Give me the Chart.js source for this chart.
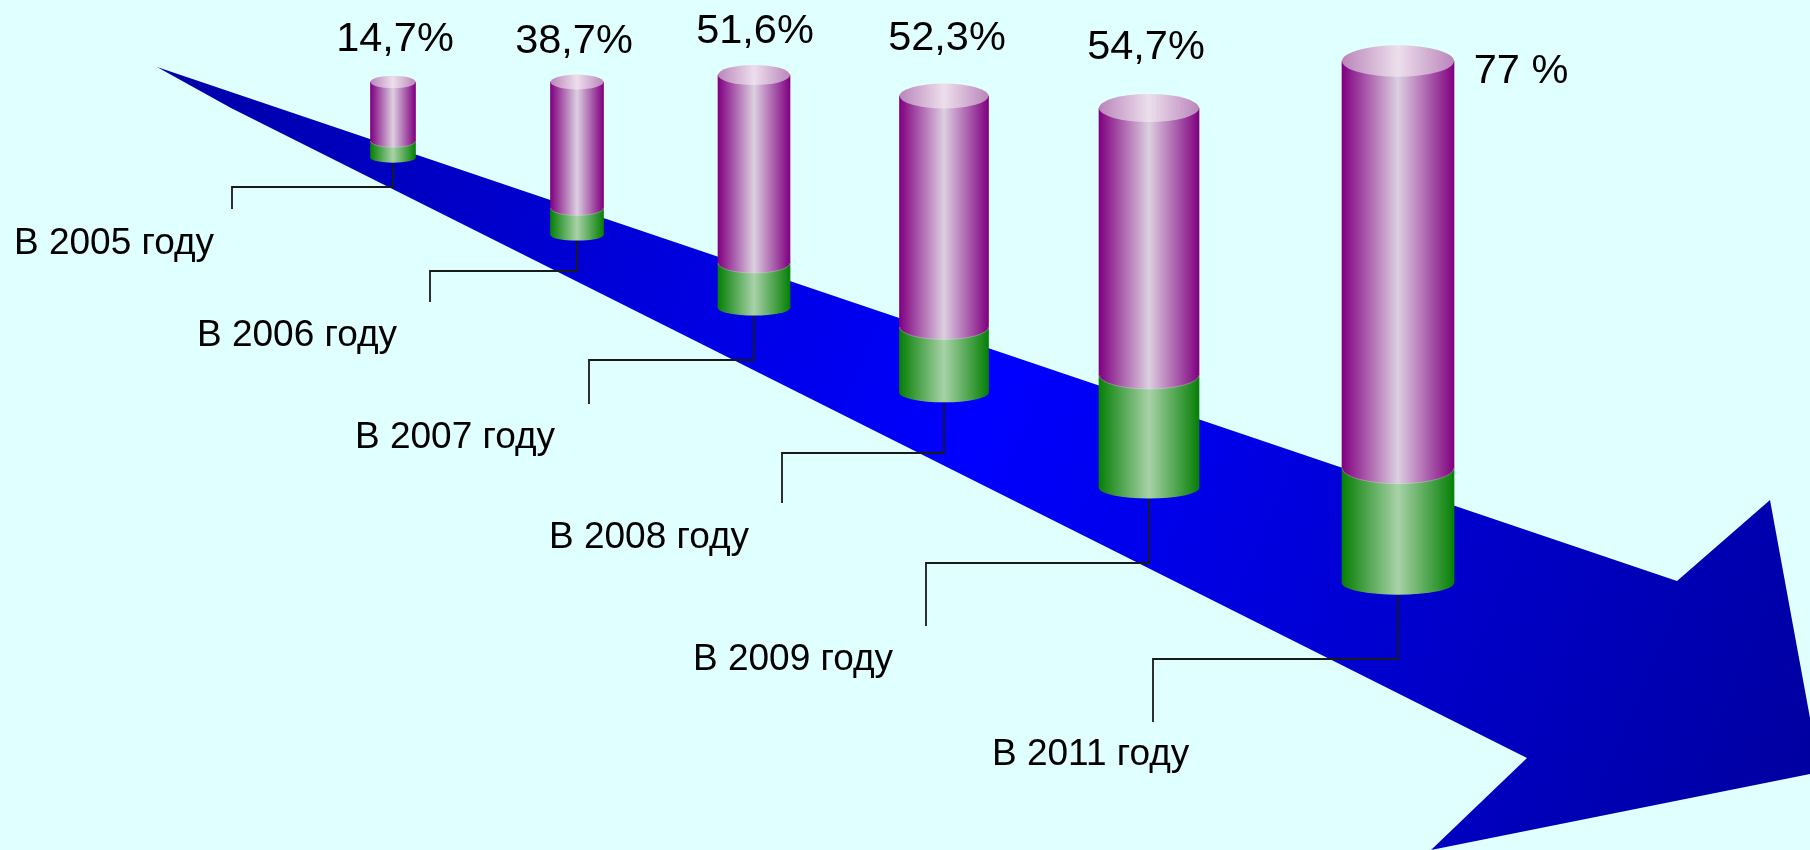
<!DOCTYPE html>
<html>
<head>
<meta charset="utf-8">
<title>Chart</title>
<script src="https://cdn.jsdelivr.net/npm/chart.js@4/dist/chart.umd.min.js"></script>
<style>
    html, body { margin: 0; padding: 0; background: #E0FFFF; overflow: hidden; }
    #wrap { width: 1810px; height: 850px; }
</style>
</head>
<body>
<div id="wrap"><canvas id="cylinderChart"></canvas></div>
<script>
// --- Data (axes run 0-181 and 0-85) ---
const years = ['В 2005 году', 'В 2006 году', 'В 2007 году', 'В 2008 году', 'В 2009 году', 'В 2011 году'];
const percents = ['14,7%', '38,7%', '51,6%', '52,3%', '54,7%', '77 %'];
const positions = [39.3, 57.7, 75.4, 94.4, 114.9, 139.8];
const topLevels = [76.8, 76.8, 77.5, 75.4, 74.2, 78.9];
const joinLevels = [70.9, 64.2, 58.7, 52.3, 47.5, 38.2];
const baseLevels = [69.2, 61.5, 54.2, 45.7, 36.2, 26.7];
const arrowX = [15.7, 167.7, 177, 181, 181, 143.1, 152.7, 23.1];
const arrowY = [78.3, 26.9, 35, 13.2, 7.6, 0, 9.2, 74.2];

// leader lines from the cylinder foot to the year label
const leaderElbowY = [66.3, 57.9, 49, 39.7, 28.7, 19.1];
const leaderEndX = [23.2, 43, 58.9, 78.2, 92.6, 115.3];
const leaderEndY = [64.1, 54.8, 44.6, 34.7, 22.4, 12.8];

// --- Layout and style ---
const barWidths = [45, 53, 72, 89, 100, 112];
const capRatio = 0.14;
const footRatio = 0.105;
const percentPos = [[395, 51], [574, 53], [755, 43], [947, 50], [1146, 59], [1521, 83]];
const yearPos = [[14, 254], [197, 346], [355, 448], [549, 548], [693, 670], [992, 765]];
const purpleSide = ['#800080', '#dcd0e0'];
const purpleCap = ['#bb85bb', '#ecdfec'];
const greenSide = ['#068006', '#a8d2a8'];

function barGradient(chart, i, colors) {
    if (!chart.chartArea) return colors[0];
    const cx = chart.scales.x.getPixelForValue(positions[i]);
    const half = barWidths[i] / 2;
    const g = chart.ctx.createLinearGradient(cx - half, 0, cx + half, 0);
    g.addColorStop(0, colors[0]);
    g.addColorStop(0.5, colors[1]);
    g.addColorStop(1, colors[0]);
    return g;
}

function arrowGradient(context) {
    const chart = context.chart;
    if (!chart.chartArea) return '#0000ff';
    const { x, y } = chart.scales;
    const g = chart.ctx.createLinearGradient(
        x.getPixelForValue(arrowX[0]), y.getPixelForValue(arrowY[0]),
        x.getPixelForValue(arrowX[4]), y.getPixelForValue(arrowY[4]));
    g.addColorStop(0, '#0000a8');
    g.addColorStop(0.5, '#0000ff');
    g.addColorStop(1, '#0000a0');
    return g;
}

// Rounds the flat bars into cylinders, using the geometry Chart.js worked out
const cylinderCaps = {
    id: 'cylinderCaps',
    afterDatasetDraw(chart, args) {
        const ds = chart.data.datasets[args.index];
        if (!ds.part) return;
        const el = args.meta.data[0];
        const ctx = chart.ctx;
        const i = ds.year;
        const rx = el.width / 2;
        const ry = el.width * capRatio;
        const top = Math.min(el.y, el.base);
        const bottom = Math.max(el.y, el.base);

        ctx.save();
        ctx.fillStyle = barGradient(chart, i, ds.part === 'purple' ? purpleSide : greenSide);
        ctx.beginPath();
        ctx.ellipse(el.x, bottom, rx, ds.part === 'purple' ? ry : el.width * footRatio, 0, 0, Math.PI);
        ctx.closePath();
        ctx.fill();
        if (ds.part === 'purple') {
            ctx.strokeStyle = 'rgba(230, 245, 230, 0.3)';
            ctx.lineWidth = 1;
            ctx.beginPath();
            ctx.ellipse(el.x, bottom, rx, ry, 0, 0, Math.PI);
            ctx.stroke();
            ctx.fillStyle = barGradient(chart, i, purpleCap);
            ctx.beginPath();
            ctx.ellipse(el.x, top, rx, ry, 0, 0, Math.PI * 2);
            ctx.fill();
        }
        ctx.restore();
    }
};

const textLabels = {
    id: 'textLabels',
    afterDraw(chart) {
        const ctx = chart.ctx;
        ctx.save();
        ctx.fillStyle = '#000';
        ctx.textBaseline = 'alphabetic';
        ctx.font = '41.5px "Liberation Sans"';
        ctx.textAlign = 'center';
        percents.forEach((t, i) => ctx.fillText(t, percentPos[i][0], percentPos[i][1]));
        ctx.font = '37px "Liberation Sans"';
        ctx.textAlign = 'left';
        years.forEach((t, i) => ctx.fillText(t, yearPos[i][0], yearPos[i][1]));
        ctx.restore();
    }
};

// --- Datasets ---
const datasets = [{
    type: 'line',
    label: 'arrow',
    data: arrowX.map((x, i) => ({ x, y: arrowY[i] })),
    fill: 'shape',
    backgroundColor: arrowGradient,
    borderWidth: 0,
    pointRadius: 0,
    order: 10
}];

years.forEach((year, i) => {
    datasets.push({
        type: 'line',
        label: year + ' leader',
        data: [
            { x: positions[i], y: baseLevels[i] },
            { x: positions[i], y: leaderElbowY[i] },
            { x: leaderEndX[i], y: leaderElbowY[i] },
            { x: leaderEndX[i], y: leaderEndY[i] }
        ],
        borderColor: '#1a1a1a',
        borderWidth: 1.8,
        pointRadius: 0,
        fill: false,
        order: 5
    });
    datasets.push({
        label: year + ' green',
        part: 'green',
        year: i,
        data: [{ x: positions[i], y: [baseLevels[i], joinLevels[i]] }],
        backgroundColor: (c) => barGradient(c.chart, i, greenSide),
        barThickness: barWidths[i],
        grouped: false,
        order: 3
    });
    datasets.push({
        label: year + ' purple',
        part: 'purple',
        year: i,
        data: [{ x: positions[i], y: [joinLevels[i], topLevels[i]] }],
        backgroundColor: (c) => barGradient(c.chart, i, purpleSide),
        barThickness: barWidths[i],
        grouped: false,
        order: 2
    });
});

new Chart(document.getElementById('cylinderChart'), {
    type: 'bar',
    data: { datasets },
    plugins: [cylinderCaps, textLabels],
    options: {
        responsive: true,
        maintainAspectRatio: false,
        animation: false,
        layout: { padding: 0 },
        plugins: { legend: { display: false }, tooltip: { enabled: false } },
        scales: {
            x: { type: 'linear', min: 0, max: 181, offset: false, display: false },
            y: { type: 'linear', min: 0, max: 85, display: false }
        }
    }
});
</script>
</body>
</html>
